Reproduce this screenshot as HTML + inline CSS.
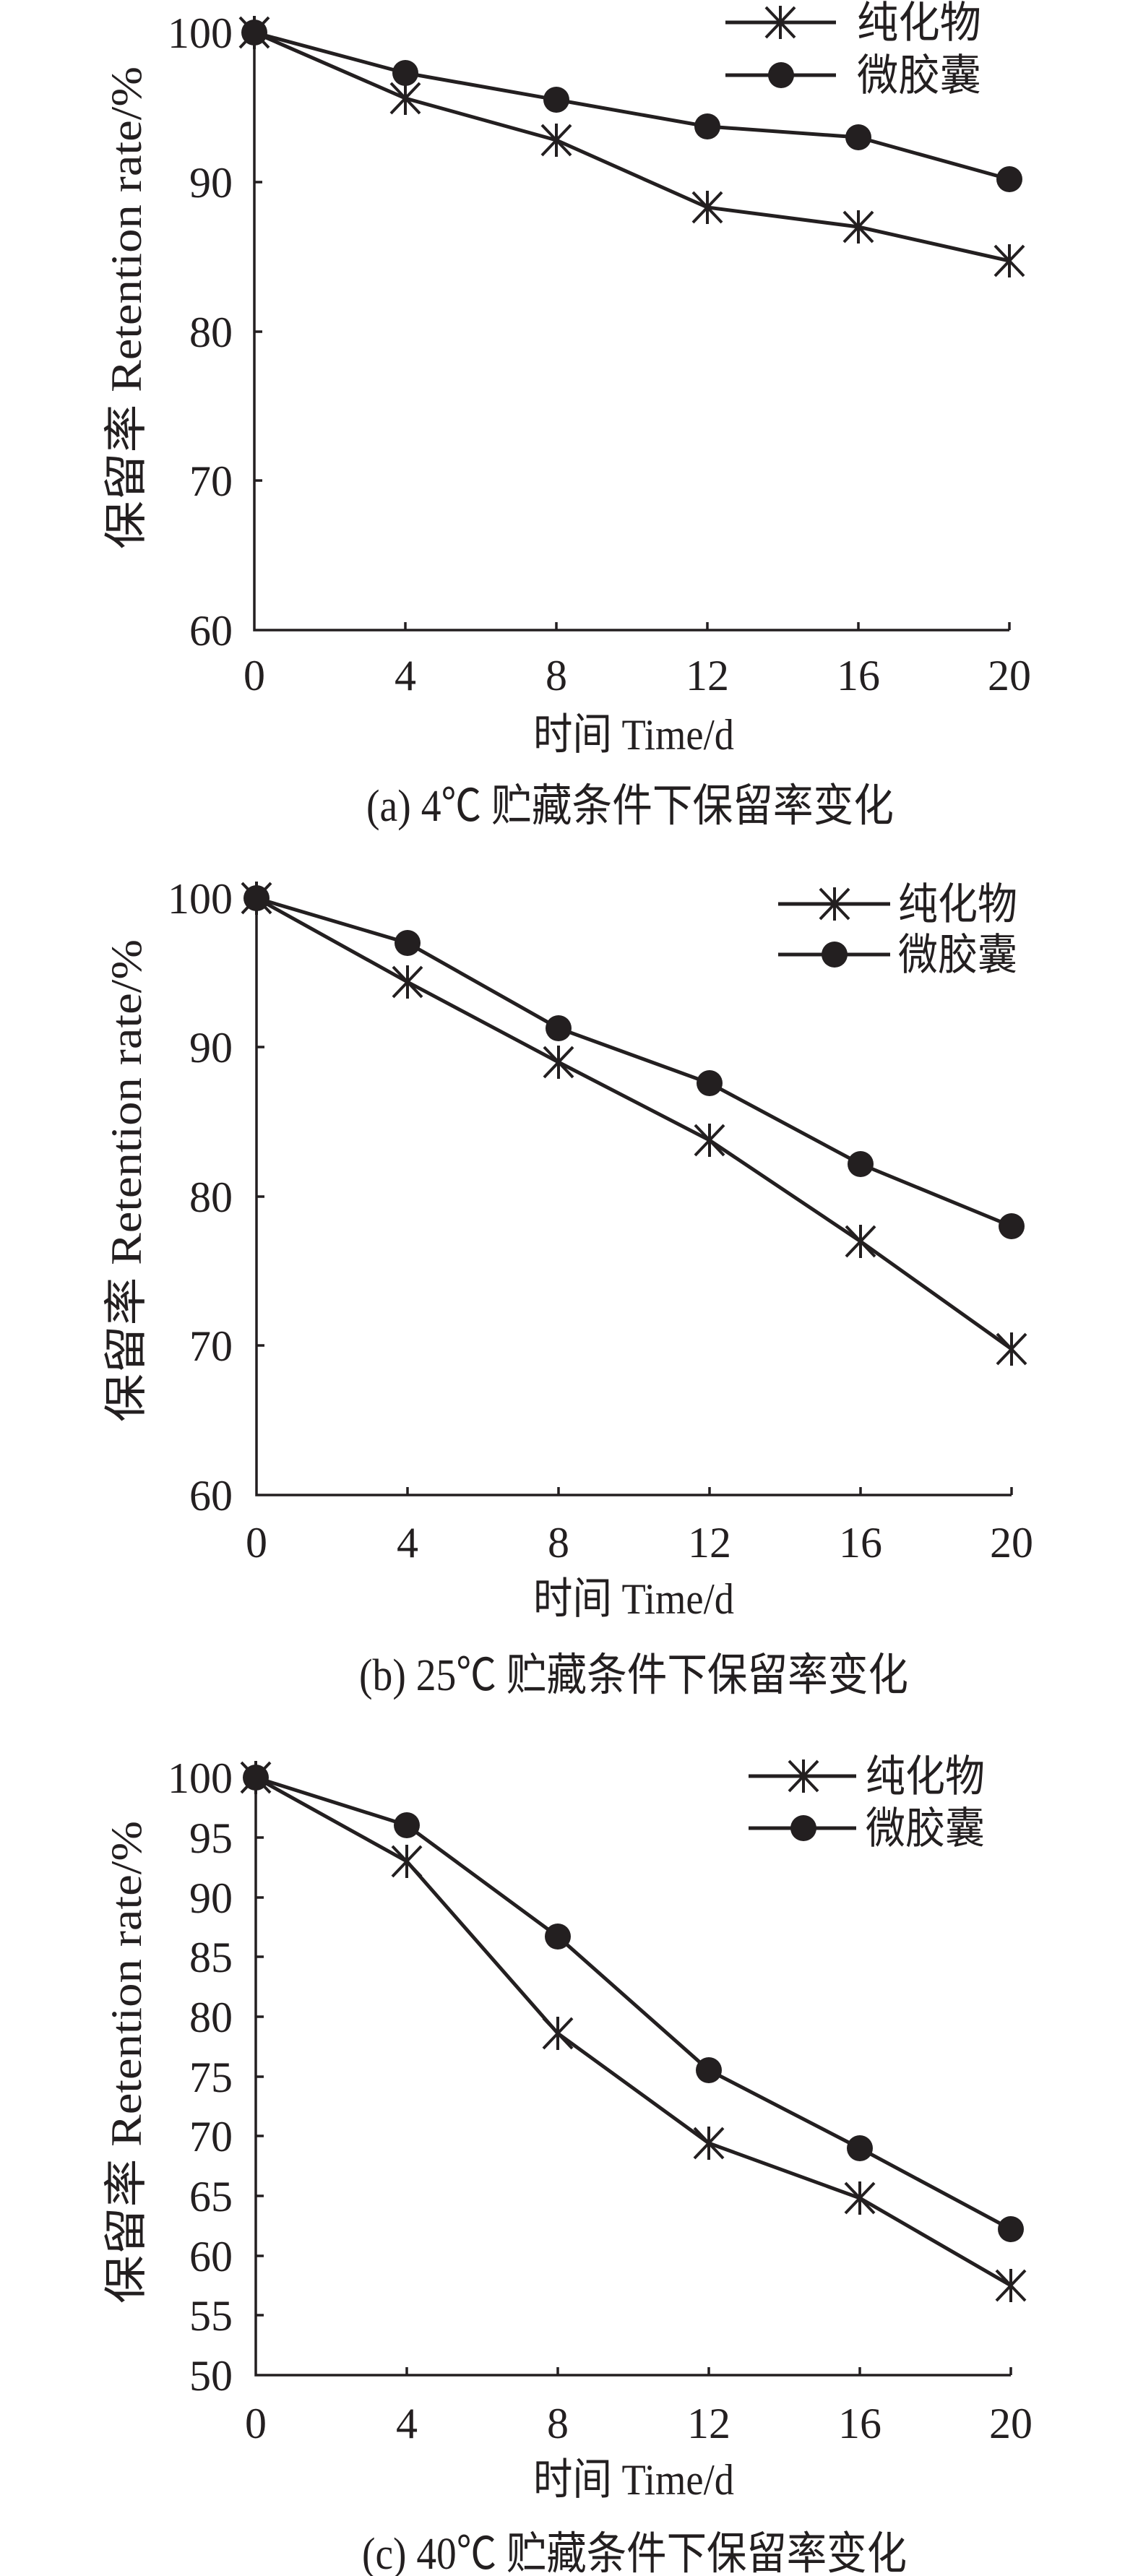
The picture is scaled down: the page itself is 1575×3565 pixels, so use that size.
<!DOCTYPE html>
<html><head><meta charset="utf-8"><style>
html,body{margin:0;padding:0;background:#fff}
svg{display:block}
text{font-family:"Liberation Serif","Noto Serif CJK SC",serif;fill:#231f20}
.cjk{font-family:"Liberation Serif","Noto Sans CJK SC",sans-serif}
</style></head><body>
<svg width="1575" height="3565" viewBox="0 0 1575 3565" xmlns="http://www.w3.org/2000/svg">
<defs>
<path id="st" d="M-20,-21L20,21M20,-21L-20,21M0,-23L0,23" stroke="#231f20" stroke-width="4" fill="none"/>
<circle id="dt" r="18" fill="#231f20"/>
</defs>
<g stroke="#231f20" fill="none">
<path d="M352,45V872H1397M561,872v-11M770,872v-11M979,872v-11M1188,872v-11M1397,872v-11M352,252h11M352,459h11M352,665h11" stroke-width="3.5"/>
<polyline points="352,45 561,136 770,194 979,287 1188,314 1397,361" stroke-width="5"/>
<polyline points="352,45 561,101 770,138 979,175 1188,190 1397,248" stroke-width="5"/>
<path d="M355,1243V2069H1400M564,2069v-11M773,2069v-11M982,2069v-11M1191,2069v-11M1400,2069v-11M355,1449h11M355,1656h11M355,1862h11" stroke-width="3.5"/>
<polyline points="355,1243 564,1359 773,1470 982,1578 1191,1718 1400,1867" stroke-width="5"/>
<polyline points="355,1243 564,1305 773,1423 982,1499 1191,1611 1400,1697" stroke-width="5"/>
<path d="M354,2460V3287H1399M563,3287v-11M772,3287v-11M981,3287v-11M1190,3287v-11M1399,3287v-11M354,2543h11M354,2626h11M354,2708h11M354,2791h11M354,2874h11M354,2956h11M354,3039h11M354,3122h11M354,3204h11" stroke-width="3.5"/>
<polyline points="354,2460 563,2576 772,2814 981,2966 1190,3042 1399,3163" stroke-width="5"/>
<polyline points="354,2460 563,2526 772,2680 981,2865 1190,2973 1399,3085" stroke-width="5"/>
<path d="M1004,31H1157M1004,104H1157M1077,1251H1232M1077,1321H1232M1036,2458H1185M1036,2530H1185" stroke-width="5"/>
</g>
<use href="#st" x="352" y="45"/><use href="#st" x="561" y="136"/><use href="#st" x="770" y="194"/><use href="#st" x="979" y="287"/><use href="#st" x="1188" y="314"/><use href="#st" x="1397" y="361"/>
<use href="#dt" x="352" y="45"/><use href="#dt" x="561" y="101"/><use href="#dt" x="770" y="138"/><use href="#dt" x="979" y="175"/><use href="#dt" x="1188" y="190"/><use href="#dt" x="1397" y="248"/>
<use href="#st" x="1080" y="31"/><use href="#dt" x="1081" y="104"/>
<use href="#st" x="355" y="1243"/><use href="#st" x="564" y="1359"/><use href="#st" x="773" y="1470"/><use href="#st" x="982" y="1578"/><use href="#st" x="1191" y="1718"/><use href="#st" x="1400" y="1867"/>
<use href="#dt" x="355" y="1243"/><use href="#dt" x="564" y="1305"/><use href="#dt" x="773" y="1423"/><use href="#dt" x="982" y="1499"/><use href="#dt" x="1191" y="1611"/><use href="#dt" x="1400" y="1697"/>
<use href="#st" x="1155" y="1251"/><use href="#dt" x="1155" y="1321"/>
<use href="#st" x="354" y="2460"/><use href="#st" x="563" y="2576"/><use href="#st" x="772" y="2814"/><use href="#st" x="981" y="2966"/><use href="#st" x="1190" y="3042"/><use href="#st" x="1399" y="3163"/>
<use href="#dt" x="354" y="2460"/><use href="#dt" x="563" y="2526"/><use href="#dt" x="772" y="2680"/><use href="#dt" x="981" y="2865"/><use href="#dt" x="1190" y="2973"/><use href="#dt" x="1399" y="3085"/>
<use href="#st" x="1112" y="2458"/><use href="#dt" x="1112" y="2530"/>

<g font-size="60">
<g text-anchor="end">
<text x="322" y="66">100</text><text x="322" y="273">90</text><text x="322" y="480">80</text><text x="322" y="686">70</text><text x="322" y="893">60</text>
<text x="322" y="1264">100</text><text x="322" y="1470">90</text><text x="322" y="1677">80</text><text x="322" y="1883">70</text><text x="322" y="2090">60</text>
<text x="322" y="2481">100</text><text x="322" y="2564">95</text><text x="322" y="2647">90</text><text x="322" y="2729">85</text><text x="322" y="2812">80</text><text x="322" y="2895">75</text><text x="322" y="2977">70</text><text x="322" y="3060">65</text><text x="322" y="3143">60</text><text x="322" y="3225">55</text><text x="322" y="3308">50</text>
</g>
<g text-anchor="middle">
<text x="352" y="955">0</text><text x="561" y="955">4</text><text x="770" y="955">8</text><text x="979" y="955">12</text><text x="1188" y="955">16</text><text x="1397" y="955">20</text>
<text x="355" y="2155">0</text><text x="564" y="2155">4</text><text x="773" y="2155">8</text><text x="982" y="2155">12</text><text x="1191" y="2155">16</text><text x="1400" y="2155">20</text>
<text x="354" y="3374">0</text><text x="563" y="3374">4</text><text x="772" y="3374">8</text><text x="981" y="3374">12</text><text x="1190" y="3374">16</text><text x="1399" y="3374">20</text>
</g>
<text x="738" y="1037" textLength="278" lengthAdjust="spacingAndGlyphs"><tspan class="cjk">时间</tspan> Time/d</text>
<text x="738" y="2233" textLength="278" lengthAdjust="spacingAndGlyphs"><tspan class="cjk">时间</tspan> Time/d</text>
<text x="738" y="3452" textLength="278" lengthAdjust="spacingAndGlyphs"><tspan class="cjk">时间</tspan> Time/d</text>
<text transform="translate(195,760) rotate(-90)" textLength="668" lengthAdjust="spacingAndGlyphs"><tspan class="cjk">保留率</tspan> Retention rate/%</text>
<text transform="translate(195,1968) rotate(-90)" textLength="668" lengthAdjust="spacingAndGlyphs"><tspan class="cjk">保留率</tspan> Retention rate/%</text>
<text transform="translate(195,3188) rotate(-90)" textLength="668" lengthAdjust="spacingAndGlyphs"><tspan class="cjk">保留率</tspan> Retention rate/%</text>
</g>
<g font-size="62">
<text x="507" y="1136" textLength="730" lengthAdjust="spacingAndGlyphs">(a) 4<tspan class="cjk">℃ 贮藏条件下保留率变化</tspan></text>
<text x="497" y="2339" textLength="760" lengthAdjust="spacingAndGlyphs">(b) 25<tspan class="cjk">℃ 贮藏条件下保留率变化</tspan></text>
<text x="501" y="3555" textLength="754" lengthAdjust="spacingAndGlyphs">(c) 40<tspan class="cjk">℃ 贮藏条件下保留率变化</tspan></text>
</g>
<g font-size="60">
<text class="cjk" x="1186" y="52" textLength="172" lengthAdjust="spacingAndGlyphs">纯化物</text><text class="cjk" x="1186" y="125" textLength="172" lengthAdjust="spacingAndGlyphs">微胶囊</text>
<text class="cjk" x="1243" y="1272" textLength="165" lengthAdjust="spacingAndGlyphs">纯化物</text><text class="cjk" x="1243" y="1342" textLength="165" lengthAdjust="spacingAndGlyphs">微胶囊</text>
<text class="cjk" x="1198" y="2479" textLength="165" lengthAdjust="spacingAndGlyphs">纯化物</text><text class="cjk" x="1198" y="2551" textLength="165" lengthAdjust="spacingAndGlyphs">微胶囊</text>
</g>
</svg>
</body></html>
